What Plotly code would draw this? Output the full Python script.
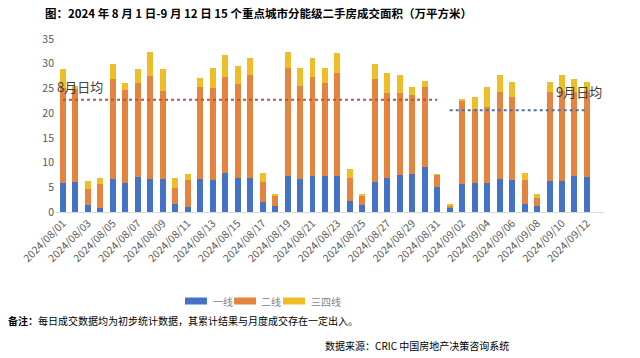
import plotly.graph_objects as go

dates = (["2024/08/%02d" % d for d in range(1, 32)] +
         ["2024/09/%02d" % d for d in range(1, 13)])

tier1 = [5.8, 6.0, 1.5, 0.8, 6.6, 5.8, 7.0, 6.6, 6.7, 1.7, 0.95, 6.6, 6.4,
         7.8, 6.8, 6.9, 2.0, 1.15, 7.2, 6.7, 7.2, 7.2, 7.2, 2.2, 1.35, 6.0, 6.8,
         7.45, 7.7, 9.1, 5.0,
         1.0, 5.7, 5.8, 5.8, 6.7, 6.4, 1.7, 1.15, 6.2, 6.2, 7.2, 7.0]
tier2_top = [25.0, 24.9, 4.7, 5.75, 26.9, 24.7, 26.2, 27.6, 24.4, 4.9, 6.4, 25.2, 25.0,
             27.4, 25.9, 27.8, 6.1, 3.2, 29.2, 25.5, 27.4, 26.1, 28.1, 6.9, 3.2, 27.0, 24.0,
             24.0, 23.7, 25.3, 7.5,
             1.3, 22.6, 20.9, 21.3, 24.2, 23.3, 6.4, 2.8, 24.3, 24.5, 24.3, 24.5]
total = [28.9, 25.5, 6.2, 6.8, 30.0, 26.2, 28.9, 32.3, 28.9, 6.9, 7.65, 27.2, 29.1,
         31.8, 29.5, 31.1, 7.9, 3.7, 32.4, 29.2, 31.1, 29.2, 32.1, 8.7, 3.7, 29.9, 28.1,
         27.8, 25.3, 26.5, 7.6,
         1.5, 22.8, 23.2, 25.3, 27.8, 26.3, 7.8, 3.7, 26.4, 27.7, 27.0, 26.3]
tier2 = [round(b - a, 2) for a, b in zip(tier1, tier2_top)]
tier34 = [round(c - b, 2) for b, c in zip(tier2_top, total)]

aug_avg = 22.7
sep_avg = 20.6

series_names = ["一线", "二线", "三四线"]
colors = ["#4472C4", "#E4843F", "#EEBE28"]

# plot-area geometry (pixels) used to place paper-referenced decorations
L, R, T, B = 55, 36, 39, 146
W, H = 640, 358
PW, PH = W - L - R, H - T - B


def px(x):
    return (x - L) / PW


def py(y):
    return (H - B - y) / PH


fig = go.Figure()
for name, vals, col in zip(series_names, [tier1, tier2, tier34], colors):
    fig.add_trace(go.Bar(x=dates, y=vals, name=name, marker=dict(color=col, line=dict(width=0))))

aug_dates = [d for d in dates if d.startswith("2024/08")]
sep_dates = [d for d in dates if d.startswith("2024/09")]
fig.add_trace(go.Scatter(x=aug_dates, y=[aug_avg] * len(aug_dates), mode="lines",
                         line=dict(color="#C0504D", dash="dot", width=2), showlegend=False,
                         hoverinfo="skip"))
fig.add_trace(go.Scatter(x=sep_dates, y=[sep_avg] * len(sep_dates), mode="lines",
                         line=dict(color="#4F6FA8", dash="dot", width=2), showlegend=False,
                         hoverinfo="skip"))

fig.add_annotation(x=dates[0], y=25.3, xref="x", yref="y", text="8月日均", showarrow=False,
                   xanchor="left", xshift=-8, font=dict(size=13, color="#404040"))
fig.add_annotation(x=dates[40], y=24.3, xref="x", yref="y", text="9月日均", showarrow=False,
                   xanchor="left", xshift=-8, font=dict(size=13, color="#404040"))

# custom legend (wide flat swatches like the reference)
legend_items = [(185, 211), (234, 259), (283, 309)]
for (sx, tx), name, col in zip(legend_items, series_names, colors):
    fig.add_shape(type="rect", xref="paper", yref="paper",
                  x0=px(sx), x1=px(sx + 22), y0=py(304.5), y1=py(297.5),
                  fillcolor=col, line=dict(width=0))
    fig.add_annotation(x=px(tx), y=py(301), xref="paper", yref="paper", xanchor="left",
                       yanchor="middle", text=name, showarrow=False,
                       font=dict(size=10, color="#7F7F7F"))

fig.add_annotation(x=px(6), y=py(320), xref="paper", yref="paper", xanchor="left", yanchor="middle",
                   text="<b>备注：</b>每日成交数据均为初步统计数据，其累计结果与月度成交存在一定出入。",
                   showarrow=False, font=dict(size=10, color="#000000"))
fig.add_annotation(x=px(511), y=py(345), xref="paper", yref="paper", xanchor="right", yanchor="middle",
                   text="数据来源：CRIC 中国房地产决策咨询系统",
                   showarrow=False, font=dict(size=10, color="#000000"))

fig.update_layout(
    width=W, height=H,
    barmode="stack", bargap=0.52,
    showlegend=False,
    plot_bgcolor="white", paper_bgcolor="white",
    margin=dict(l=L, r=R, t=T, b=B, autoexpand=False),
    font=dict(family="Noto Sans CJK SC, sans-serif", color="#595959"),
    title=dict(text="<b>图：2024 年 8 月 1 日-9 月 12 日 15 个重点城市分能级二手房成交面积（万平方米）</b>",
               x=45 / W, xanchor="left", y=1 - 14 / H, yanchor="middle",
               font=dict(size=11.5, color="#000000")),
    xaxis=dict(type="category", tickangle=-45, tickvals=dates[::2], ticktext=dates[::2],
               tickfont=dict(size=10.5, color="#595959"), showgrid=False,
               showline=True, linecolor="#D9D9D9", ticks=""),
    yaxis=dict(range=[0, 35], dtick=5, showgrid=False, zeroline=False,
               tickfont=dict(size=10.5, color="#595959"), ticks=""),
)

fig.write_html("out.html", config={"displayModeBar": False},
               post_script="document.body.style.margin='0px';document.body.style.overflow='hidden';")
